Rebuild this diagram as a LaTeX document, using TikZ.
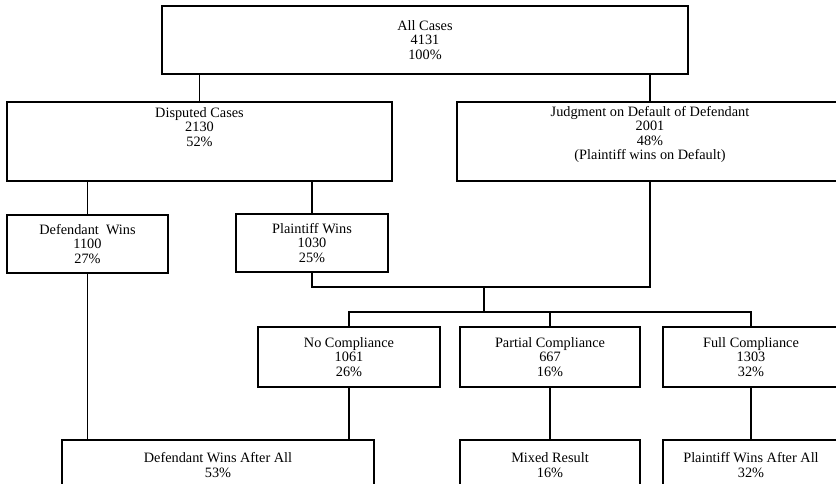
\documentclass[tikz,border=0pt]{standalone}
\usepackage{fontspec}
\setmainfont{Liberation Serif}
\begin{document}
\begin{tikzpicture}[x=1pt,y=-1pt,
  box/.style={draw, line width=1.2pt, rectangle, inner sep=0pt, align=center,
    font=\fontsize{14.3}{14.5}\selectfont},
  conn/.style={line width=1.2pt}]
\useasboundingbox (0,0) rectangle (836,483);
% boxes
\node[box, minimum width=526, minimum height=68] (A) at (425,40) {All Cases\\4131\\100\%};
\node[box, minimum width=385, minimum height=79] (B) at (199.5,141.5) {Disputed Cases\\2130\\52\%\\\mbox{}\\\mbox{}};
\node[box, minimum width=386, minimum height=79] (C) at (650,141.5)
  {Judgment on Default of Defendant\\2001\\48\%\\(Plaintiff wins on Default)\\[3pt]\mbox{}};
\node[box, minimum width=161, minimum height=58] (D) at (87.5,244) {Defendant \ Wins\\1100\\27\%};
\node[box, minimum width=152, minimum height=58] (E) at (312,243) {Plaintiff Wins\\1030\\25\%};
\node[box, minimum width=182, minimum height=60] (F) at (349,357) {No Compliance\\1061\\26\%};
\node[box, minimum width=180, minimum height=60] (G) at (550,357) {Partial Compliance\\667\\16\%};
\node[box, minimum width=176, minimum height=60] (H) at (751,357) {Full Compliance\\1303\\32\%};
\node[box, minimum width=312, minimum height=50] (I) at (218,465) {Defendant Wins After All\\53\%};
\node[box, minimum width=180, minimum height=50] (J) at (550,465) {Mixed Result\\16\%};
\node[box, minimum width=176, minimum height=50] (K) at (751,465) {Plaintiff Wins After All\\32\%};
% junctions
\coordinate (busA) at (484,287);
\coordinate (busB) at (484,312);
% connectors
\draw[conn] (A.south -| B.north) -- (B.north);
\draw[conn] (A.south -| C.north) -- (C.north);
\draw[conn] (B.south -| D.north) -- (D.north);
\draw[conn] (B.south -| E.north) -- (E.north);
\draw[conn] (E.south) |- (busA) -| (C.south);
\draw[conn] (busA) -- (busB);
\draw[conn] (F.north) |- (busB) -| (H.north);
\draw[conn] (G.north |- busB) -- (G.north);
\draw[conn] (D.south) -- (D.south |- I.north);
\draw[conn] (F.south) -- (F.south |- I.north);
\draw[conn] (G.south) -- (J.north);
\draw[conn] (H.south) -- (K.north);
\end{tikzpicture}
\end{document}
